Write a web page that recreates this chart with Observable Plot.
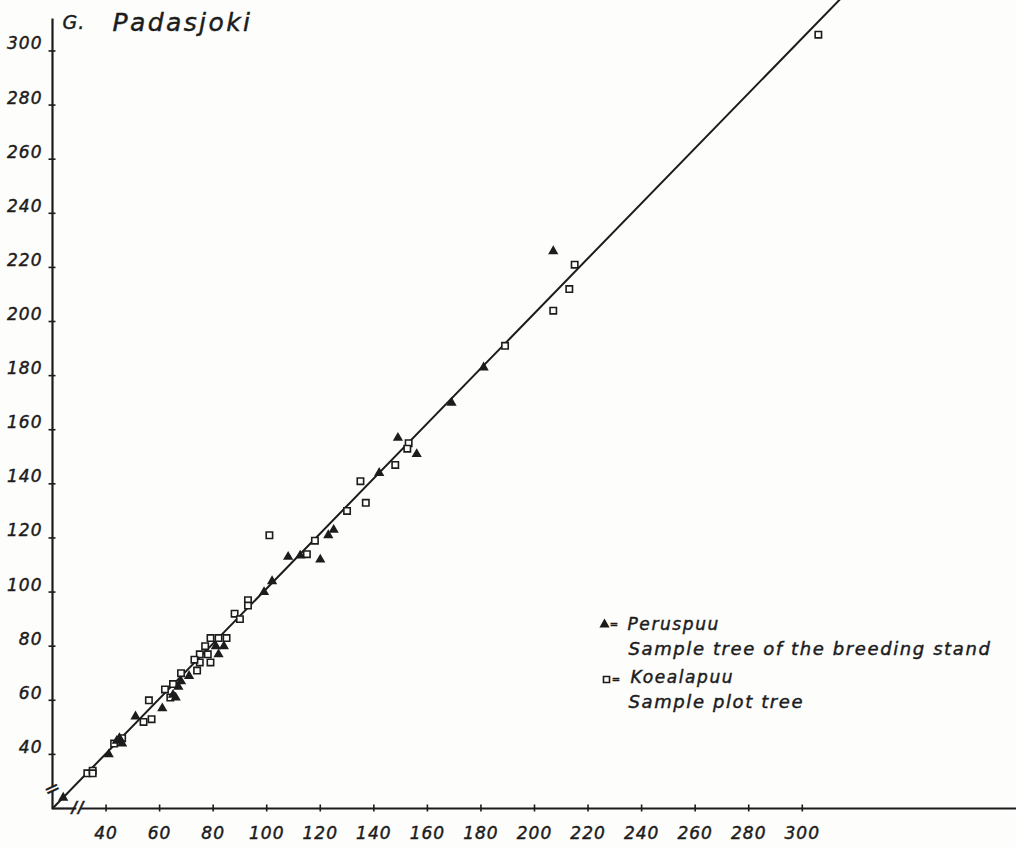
<!DOCTYPE html>
<html><head><meta charset="utf-8">
<script src="https://cdn.jsdelivr.net/npm/d3@7"></script>
<script src="https://cdn.jsdelivr.net/npm/@observablehq/plot@0.6"></script>
<style>
body{margin:0;background:#fdfdfc;}
#chart svg text{letter-spacing:1px; stroke:#1c1c1c; stroke-width:0.45px}
</style></head><body><div id="chart"></div><script>
// Peruspuu – sample tree of the breeding stand (triangles)
const peruspuuX = [207,181,169,149,156,142,125,123,112.5,108,120,102,99,84,81,82,71,68,67,65,66,61,51,45,44,46,41,24];
const peruspuuY = [226,183,170,157,151,144,123,121,113.5,113,112,104,100,80,80,77,69,67,65,62,61,57,54,46,45,44,40,24];
// Koealapuu – sample plot tree (squares)
const koealapuuX = [306,215,213,207,189,153,152.5,148,135,137,130,118,115,101,93,93,88,90,79,82,85,77,78,75,79,75,73,74,68,65,62,64,56,57,54,46,43,33,35,35];
const koealapuuY = [306,221,212,204,191,155,153,147,141,133,130,119,114,121,97,95,92,90,83,83,83,80,77,77,74,74,75,71,70,66,64,61,60,53,52,46,44,33,34,33];
// reference line (drawn by hand, y ≈ x)
const lineX = [20, 314];
const lineY = [20, 319];
const xTicks = [40,60,80,100,120,140,160,180,200,220,240,260,280,300];
const yTicks = [40,60,80,100,120,140,160,180,200,220,240,260,280,300];
const xDomain = [20, 380];
const yDomain = [20, 312];
// axis segments with scale breaks
const xAxisStart = [20, 30.4], xAxisEnd = [28.9, 380];
const yAxisStart = [20, 28.2], yAxisEnd = [26.5, 312];
const xBreakAt = [29.6], yBreakAt = [27.3];
const titleParts = ["G.", "Padasjoki"];
const legendNames = ["Peruspuu", "Koealapuu"];
const legendDescs = ["Sample tree of the breeding stand", "Sample plot tree"];

const ink = "#1c1c1c";
const bg = "#fdfdfc";
const points = [
  ...peruspuuX.map((x, i) => ({x, y: peruspuuY[i], kind: "Peruspuu"})),
  ...koealapuuX.map((x, i) => ({x, y: koealapuuY[i], kind: "Koealapuu"}))
];
const refLine = lineX.map((x, i) => ({x, y: lineY[i]}));
const xSegs = xAxisStart.map((s, i) => ({x1: s, x2: xAxisEnd[i], y: yDomain[0]}));
const ySegs = yAxisStart.map((s, i) => ({y1: s, y2: yAxisEnd[i], x: xDomain[0]}));

const chart = Plot.plot({
  width: 1016, height: 847,
  marginLeft: 52, marginRight: 0, marginTop: 18, marginBottom: 39,
  x: {domain: xDomain},
  y: {domain: yDomain},
  style: {background: bg, color: ink, fontFamily: "'DejaVu Sans', sans-serif", fontSize: "17px", fontStyle: "italic"},
  marks: [
    Plot.link(xSegs, {x1: "x1", x2: "x2", y1: "y", y2: "y", stroke: ink, strokeWidth: 2.2}),
    Plot.link(ySegs, {y1: "y1", y2: "y2", x1: "x", x2: "x", stroke: ink, strokeWidth: 2.2}),
    Plot.text(xBreakAt, {x: d => d, y: yDomain[0], text: () => "//", fontSize: 15, fontWeight: "bold", fill: ink}),
    Plot.text(yBreakAt, {y: d => d, x: xDomain[0], text: () => "=", fontSize: 19, rotate: -25, fill: ink}),
    // ticks crossing the axis lines
    Plot.axisX({ticks: xTicks, tickSize: 7, dy: -3.5, tickFormat: () => "", stroke: ink, strokeWidth: 1.6, label: null}),
    Plot.axisX({ticks: xTicks, tickSize: 0, tickPadding: 18, fontSize: 17, fill: ink, label: null}),
    Plot.axisY({ticks: yTicks, tickSize: 7, dx: 3.5, tickFormat: () => "", stroke: ink, strokeWidth: 1.6, label: null}),
    Plot.axisY({ticks: yTicks, tickSize: 0, tickPadding: 10, dy: -7, fontSize: 17, fill: ink, label: null}),
    Plot.line(refLine, {x: "x", y: "y", stroke: ink, strokeWidth: 2}),
    Plot.dot(points.filter(d => d.kind === "Koealapuu"), {x: "x", y: "y", symbol: "square", r: 3.6, stroke: ink, strokeWidth: 1.6, fill: bg}),
    Plot.dot(points.filter(d => d.kind === "Peruspuu"), {x: "x", y: "y", symbol: "triangle", r: 3.8, fill: ink, stroke: "none"}),
    // title inside the frame
    Plot.text([titleParts[0]], {frameAnchor: "top-left", dx: 10, dy: 4, text: d => d, textAnchor: "start", lineAnchor: "middle", fontSize: 19, fill: ink}),
    Plot.text([titleParts[1]], {frameAnchor: "top-left", dx: 60, dy: 4, text: d => d, textAnchor: "start", lineAnchor: "middle", fontSize: 25, fill: ink}),
    // legend
    Plot.dot([legendNames[0]], {frameAnchor: "top-left", dx: 552, dy: 606, symbol: "triangle", r: 3.8, fill: ink}),
    Plot.dot([legendNames[1]], {frameAnchor: "top-left", dx: 554, dy: 661, symbol: "square", r: 3.4, stroke: ink, strokeWidth: 1.6, fill: "none"}),
    Plot.text(["="], {frameAnchor: "top-left", dx: 562, dy: 606, text: d => d, fontSize: 10, fill: ink, lineAnchor: "middle", textAnchor: "middle"}),
    Plot.text(["="], {frameAnchor: "top-left", dx: 564, dy: 661, text: d => d, fontSize: 10, fill: ink, lineAnchor: "middle", textAnchor: "middle"}),
    Plot.text([legendNames[0]], {frameAnchor: "top-left", dx: 575, dy: 606, text: d => d, textAnchor: "start", lineAnchor: "middle", fontSize: 17, fill: ink}),
    Plot.text([legendDescs[0]], {frameAnchor: "top-left", dx: 576, dy: 631, text: d => d, textAnchor: "start", lineAnchor: "middle", fontSize: 18, fill: ink}),
    Plot.text([legendNames[1]], {frameAnchor: "top-left", dx: 578, dy: 659, text: d => d, textAnchor: "start", lineAnchor: "middle", fontSize: 17, fill: ink}),
    Plot.text([legendDescs[1]], {frameAnchor: "top-left", dx: 576, dy: 684, text: d => d, textAnchor: "start", lineAnchor: "middle", fontSize: 18, fill: ink})
  ]
});
// extra letter spacing for the hand-lettered title and legend
d3.select(chart).selectAll("text").each(function () {
  const t = this.textContent;
  if (t === titleParts[1]) this.style.letterSpacing = "2.4px";
  else if (legendDescs.includes(t) || legendNames.includes(t)) this.style.letterSpacing = "1.6px";
});
document.getElementById("chart").appendChild(chart);
</script></body></html>
